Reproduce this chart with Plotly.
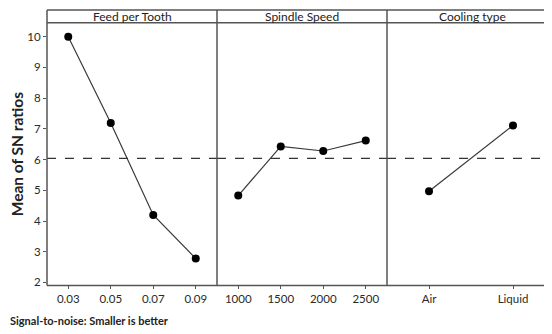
import plotly.graph_objects as go

OFF = 8  # default body margin of the html page
W, H = 552 - OFF, 334 - OFF

feed_levels = ["0.03", "0.05", "0.07", "0.09"]
feed_sn = [10.0, 7.19, 4.20, 2.78]
speed_levels = ["1000", "1500", "2000", "2500"]
speed_sn = [4.83, 6.43, 6.28, 6.62]
cool_levels = ["Air", "Liquid"]
cool_sn = [4.97, 7.11]
grand_mean = 6.04
panel_titles = ["Feed per Tooth", "Spindle Speed", "Cooling type"]
y_ticks = [2, 3, 4, 5, 6, 7, 8, 9, 10]

FONT = "Lato, 'Open Sans', sans-serif"
LINE = "#3a3a3a"
BORDER = "#555555"

# pixel layout (screen coords)
px_l = [47, 217, 387]
px_r = [217, 387, 552]
top_px, strip_px, bot_px = 10, 23, 288

def fx(p):
    return (p - OFF) / W

def fy(p):
    return (H - (p - OFF)) / H

fig = go.Figure()

panels = [(feed_levels, feed_sn), (speed_levels, speed_sn), (cool_levels, cool_sn)]
for i, (cats, vals) in enumerate(panels):
    n = i + 1
    fig.add_trace(go.Scatter(
        x=cats, y=vals, mode="lines+markers",
        line=dict(color=LINE, width=1.2),
        marker=dict(color="black", size=8),
        xaxis=f"x{n if n > 1 else ''}", yaxis=f"y{n if n > 1 else ''}",
        showlegend=False, cliponaxis=False,
    ))

yrange = [10 - (bot_px - 37) / 31.0, 10 + (37 - strip_px) / 31.0]
xranges = [[-0.5, 3.5], [-0.5, 3.5], [-0.5, 1.5 - (555 - 552) / 84.0]]

layout = dict(
    width=W, height=H,
    margin=dict(l=0, r=0, t=0, b=0),
    plot_bgcolor="white", paper_bgcolor="white",
    font=dict(family=FONT, color="#333333", size=11),
)
for i in range(3):
    n = i + 1
    sx = "" if n == 1 else str(n)
    layout[f"xaxis{sx}"] = dict(
        domain=[fx(px_l[i]), min(1.0, fx(px_r[i]))], anchor=f"y{sx}", type="category",
        range=xranges[i], showgrid=False, zeroline=False, showline=False,
        ticks="outside", ticklen=3, tickcolor=BORDER, tickfont=dict(size=11.5, color="#2a2a2a"),
        fixedrange=True,
    )
    layout[f"yaxis{sx}"] = dict(
        domain=[fy(bot_px), fy(strip_px)], anchor=f"x{sx}", range=yrange,
        showgrid=False, zeroline=False, showline=False,
        tickvals=y_ticks if n == 1 else [], showticklabels=(n == 1),
        ticks="outside" if n == 1 else "", ticklen=3, tickcolor=BORDER,
        tickfont=dict(size=11.5, color="#2a2a2a"),
        title=dict(text="<b>Mean of SN ratios</b>", font=dict(size=15.5, color="#222222"), standoff=6) if n == 1 else None,
    )
fig.update_layout(**layout)

shapes = []
for i in range(3):
    n = i + 1
    sx = "" if n == 1 else str(n)
    shapes.append(dict(type="line", xref=f"x{sx} domain", yref=f"y{sx}",
                       x0=0, x1=1, y0=grand_mean, y1=grand_mean,
                       line=dict(color="#333333", width=1.2, dash="dash")))
for yp in [top_px, strip_px, bot_px]:
    shapes.append(dict(type="line", xref="paper", yref="paper", x0=fx(47), x1=1.0,
                       y0=fy(yp), y1=fy(yp), line=dict(color=BORDER, width=1.5)))
for xp in [47, 217, 387]:
    shapes.append(dict(type="line", xref="paper", yref="paper", x0=fx(xp), x1=fx(xp),
                       y0=fy(top_px), y1=fy(bot_px), line=dict(color=BORDER, width=1.5)))

annotations = []
for i, t in enumerate(panel_titles):
    annotations.append(dict(text=t, xref="paper", yref="paper",
                            x=fx((px_l[i] + (px_r[i] if i < 2 else 557)) / 2), y=fy((top_px + strip_px) / 2),
                            xanchor="center", yanchor="middle", showarrow=False,
                            font=dict(size=12, color="#222222")))
annotations.append(dict(text="<b>Signal-to-noise: Smaller is better</b>", xref="paper", yref="paper",
                        x=0.0, y=fy(323), xanchor="left", yanchor="middle", showarrow=False,
                        font=dict(size=11, color="#222222")))

fig.update_layout(shapes=shapes, annotations=annotations)
fig.write_html("out.html")
